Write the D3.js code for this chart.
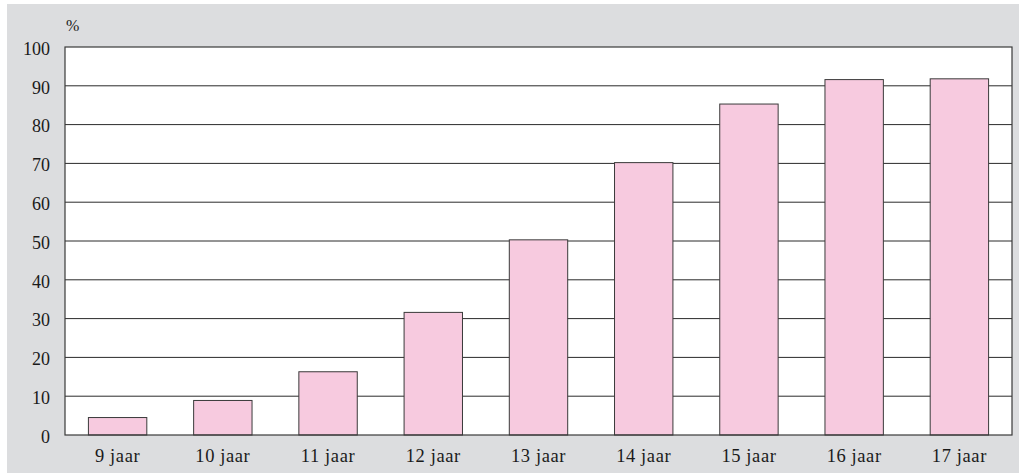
<!DOCTYPE html>
<html><head><meta charset="utf-8">
<script src="https://cdn.jsdelivr.net/npm/d3@7"></script>
<style>body{margin:0;background:#fff}svg{display:block}</style>
</head><body>
<svg id="c" width="1019" height="473"></svg>
<script>
const categories = ["9 jaar","10 jaar","11 jaar","12 jaar","13 jaar","14 jaar","15 jaar","16 jaar","17 jaar"];
const values = [4.5, 8.9, 16.3, 31.6, 50.3, 70.2, 85.3, 91.6, 91.8];
const yTicks = [0,10,20,30,40,50,60,70,80,90,100];
const unitLabel = "%";

const svg = d3.select("#c");
const W = 1019, H = 473;
const m = {left: 65, right: 1012, top: 47, bottom: 435};
const font = "'Liberation Serif', 'DejaVu Serif', serif";

svg.append("rect").attr("x",7).attr("y",4).attr("width",W-7).attr("height",H-4).attr("fill","#dcdddf");
svg.append("rect").attr("x",m.left).attr("y",m.top).attr("width",m.right-m.left).attr("height",m.bottom-m.top).attr("fill","#fff");

const x = d3.scaleBand().domain(categories).range([m.left, m.right]).paddingInner(0.445).paddingOuter(0.2225);
const y = d3.scaleLinear().domain([0,100]).range([m.bottom, m.top]);

// gridlines
svg.append("g").selectAll("line").data(yTicks.filter(d=>d>0 && d<100)).join("line")
  .attr("x1",m.left).attr("x2",m.right).attr("y1",d=>y(d)).attr("y2",d=>y(d))
  .attr("stroke","#2a2a2a").attr("stroke-width",1);

// bars
svg.append("g").selectAll("rect").data(values).join("rect")
  .attr("x",(d,i)=>x(categories[i])).attr("width",x.bandwidth())
  .attr("y",d=>y(d)).attr("height",d=>y(0)-y(d))
  .attr("fill","#f7cadf").attr("stroke","#3a3a3a").attr("stroke-width",1);

// frame
svg.append("rect").attr("x",m.left).attr("y",m.top).attr("width",m.right-m.left).attr("height",m.bottom-m.top)
  .attr("fill","none").attr("stroke","#3a3a3a").attr("stroke-width",1.2);

// y axis labels
const yAxis = d3.axisLeft(y).tickValues(yTicks).tickSize(0).tickPadding(15);
const ga = svg.append("g").attr("transform",`translate(${m.left},0)`).call(yAxis);
ga.select(".domain").remove();
ga.selectAll("text").attr("font-family",font).attr("font-size",18).attr("dy","0.4em").attr("fill","#1a1a1a");

// x axis labels
const xAxis = d3.axisBottom(x).tickSize(0).tickPadding(14);
const gx = svg.append("g").attr("transform",`translate(0,${m.bottom})`).call(xAxis);
gx.select(".domain").remove();
gx.selectAll("text").attr("font-family",font).attr("font-size",18.5).attr("letter-spacing","0.6px").attr("fill","#1a1a1a");

svg.append("text").attr("x",66).attr("y",31).attr("font-family",font).attr("font-size",16).attr("fill","#1a1a1a").text(unitLabel);
</script>
</body></html>
